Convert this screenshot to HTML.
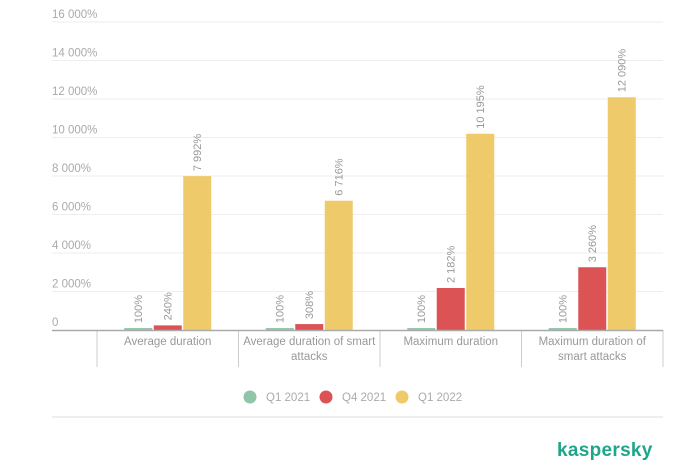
<!DOCTYPE html>
<html><head><meta charset="utf-8"><style>
body{margin:0;background:#fff;width:679px;height:469px;overflow:hidden;font-family:"Liberation Sans",sans-serif}
</style></head><body>
<svg id="c" width="679" height="469" xmlns="http://www.w3.org/2000/svg"></svg>
<script>
const categories=[["Average duration"],["Average duration of smart","attacks"],["Maximum duration"],["Maximum duration of","smart attacks"]];
const q12021=[100,100,100,100];
const q42021=[240,308,2182,3260];
const q12022=[7992,6716,10195,12090];
const seriesNames=["Q1 2021","Q4 2021","Q1 2022"];
const tickValues=[0,2000,4000,6000,8000,10000,12000,14000,16000];
const tickLabels=["0","2 000%","4 000%","6 000%","8 000%","10 000%","12 000%","14 000%","16 000%"];

const colors=["#8fc5a8","#dc5356","#efca6a"];
const svg=document.getElementById('c');const NS="http://www.w3.org/2000/svg";
function mk(t,a,p){const e=document.createElementNS(NS,t);for(const k in a)e.setAttribute(k,a[k]);(p||svg).appendChild(e);return e;}
const y0=330,y1=22,vmax=16000,xL=52,xR=663,cx0=97,cw=141.5;
const y=v=>y0-(v/vmax)*(y0-y1);
const fmt=v=>v.toString().replace(/\B(?=(\d{3})+(?!\d))/g," ")+"%";
tickValues.forEach((v,i)=>{
 if(v>0){const g=mk('line',{x1:xL,x2:xR,y1:y(v),y2:y(v),stroke:'#eeeeee','stroke-width':1});
 }
 const t=mk('text',{x:xL,y:y(v)-4,'font-size':11.5,fill:'#aaa'});t.textContent=tickLabels[i];
 
});
const series=[q12021,q42021,q12022];
categories.forEach((cat,ci)=>{
 const cc=cx0+cw*(ci+0.5);
 series.forEach((s,si)=>{
  const bx=cc-43.5+si*29.5,bw=28,top=y(s[ci]);
  const r=mk('rect',{x:bx,y:top,width:bw,height:y0-top,fill:colors[si]});
  
  
  const lx=bx+bw/2+4,ly=top-5;
  const t=mk('text',{x:lx,y:ly,'font-size':11,fill:'#999',transform:`rotate(-90 ${lx} ${ly})`});
  t.textContent=fmt(s[ci]);
  
 });
 const sep=mk('line',{x1:cx0+cw*ci,x2:cx0+cw*ci,y1:y0,y2:367,stroke:'#ccc'});
 
 cat.forEach((ln,li)=>{const t=mk('text',{x:cc,y:345+li*15,'font-size':11.5,fill:'#999','text-anchor':'middle'});t.textContent=ln;
 });
});
const sepR=mk('line',{x1:xR,x2:xR,y1:y0,y2:367,stroke:'#ccc'});

const ax=mk('line',{x1:xL,x2:xR,y1:y0+0.5,y2:y0+0.5,stroke:'#aaa','stroke-width':1.5});

const lx=[250,326,402];
seriesNames.forEach((n,i)=>{
 const g=mk('g',{});
 mk('circle',{cx:lx[i],cy:397,r:6.5,fill:colors[i]},g);
 const t=mk('text',{x:lx[i]+16,y:401,'font-size':11.5,fill:'#aaa'},g);t.textContent=n;
});
const bl=mk('line',{x1:52,x2:663,y1:417,y2:417,stroke:'#ddd'});

const logo=mk('text',{x:557,y:456,'font-size':19,fill:'#1fa58a','font-weight':'bold','letter-spacing':'0.3'});
logo.textContent="kaspersky";
</script>
</body></html>
